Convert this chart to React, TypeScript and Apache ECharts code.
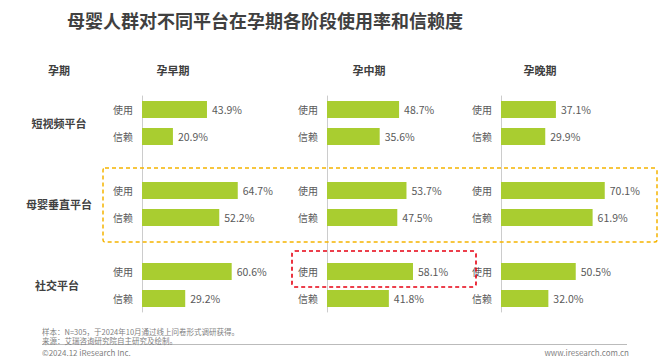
import React, { useEffect, useRef } from "react";
import * as echarts from "echarts";

const title = "母婴人群对不同平台在孕期各阶段使用率和信赖度";
const stages = ["孕早期", "孕中期", "孕晚期"];
const platforms = ["短视频平台", "母婴垂直平台", "社交平台"];
const metricLabels = ["使用", "信赖", "", "使用", "信赖", "", "使用", "信赖"];
// usage by stage: [短视频, 母婴垂直, 社交]
const usageEarly = [43.9, 64.7, 60.6];
const usageMid = [48.7, 53.7, 58.1];
const usageLate = [37.1, 70.1, 50.5];
const trustEarly = [20.9, 52.2, 29.2];
const trustMid = [35.6, 47.5, 41.8];
const trustLate = [29.9, 61.9, 32.0];
const footNote1 = "样本：N=305，于2024年10月通过线上问卷形式调研获得。";
const footNote2 = "来源：艾瑞咨询研究院自主研究及绘制。";
const copyright = "©2024.12 iResearch Inc.";
const website = "www.iresearch.com.cn";

const FONT = "'Noto Sans CJK SC', 'Noto Sans', sans-serif";
const BAR = "#A9CD30";

function slots(u: number[], t: number[]) {
  return [u[0], t[0], "-", u[1], t[1], "-", u[2], t[2]];
}

export default function App() {
  const ref = useRef<HTMLDivElement>(null);
  useEffect(() => {
    if (!ref.current) return;
    const chart = echarts.init(ref.current, undefined, { renderer: "svg" });
    const lefts = [142, 327, 501];
    const stageData = [
      slots(usageEarly, trustEarly),
      slots(usageMid, trustMid),
      slots(usageLate, trustLate),
    ];
    const headerX = [173, 369, 540];
    const rowY = [123, 204, 285];
    const rowX = [59, 59, 57];
    const graphic: any[] = [
      {
        type: "text", x: 265, y: 20,
        style: { text: title, font: `bold 18px ${FONT}`, fill: "#404040", align: "center", verticalAlign: "middle" },
      },
      {
        type: "text", x: 59, y: 70,
        style: { text: "孕期", font: `bold 11px ${FONT}`, fill: "#404040", align: "center", verticalAlign: "middle" },
      },
      {
        type: "rect", shape: { x: 103, y: 168, width: 554, height: 74, r: 2 },
        style: { fill: "none", stroke: "#F5B400", lineWidth: 1.5, lineDash: [4, 3] }, z: 10,
      },
      {
        type: "rect", shape: { x: 292, y: 251, width: 184, height: 36, r: 3 },
        style: { fill: "none", stroke: "#E60012", lineWidth: 1.6, lineDash: [4, 3] }, z: 10,
      },
      {
        type: "line", shape: { x1: 42, y1: 344.5, x2: 627, y2: 344.5 },
        style: { stroke: "#BBBBBB", lineWidth: 1 },
      },
      {
        type: "text", x: 42, y: 331,
        style: { text: footNote1, font: `7.5px ${FONT}`, fill: "#7F7F7F", verticalAlign: "middle" },
      },
      {
        type: "text", x: 42, y: 340.5,
        style: { text: footNote2, font: `7.5px ${FONT}`, fill: "#7F7F7F", verticalAlign: "middle" },
      },
      {
        type: "text", x: 42, y: 352,
        style: { text: copyright, font: `8px ${FONT}`, fill: "#7F7F7F", verticalAlign: "middle" },
      },
      {
        type: "text", x: 629, y: 352,
        style: { text: website, font: `8px ${FONT}`, fill: "#7F7F7F", align: "right", verticalAlign: "middle" },
      },
    ];
    stages.forEach((s, i) => {
      graphic.push({
        type: "text", x: headerX[i], y: 70,
        style: { text: s, font: `bold 11px ${FONT}`, fill: "#404040", align: "center", verticalAlign: "middle" },
      });
    });
    platforms.forEach((p, i) => {
      graphic.push({
        type: "text", x: rowX[i], y: rowY[i],
        style: { text: p, font: `bold 11px ${FONT}`, fill: "#404040", align: "center", verticalAlign: "middle" },
      });
    });

    chart.setOption({
      animation: false,
      backgroundColor: "#FFFFFF",
      textStyle: { fontFamily: FONT },
      grid: lefts.map((l) => ({ left: l, top: 96, width: 148, height: 216, containLabel: false })),
      xAxis: lefts.map((_, i) => ({
        type: "value", gridIndex: i, min: 0, max: 100, show: false,
        splitLine: { show: false },
      })),
      yAxis: lefts.map((_, i) => ({
        type: "category", gridIndex: i, inverse: true, data: metricLabels,
        axisLine: { show: true, lineStyle: { color: "#CCCCCC", width: 1 } },
        axisTick: { show: false },
        axisLabel: { color: "#595959", fontSize: 10, margin: 9, fontFamily: FONT },
      })),
      series: stageData.map((d, i) => ({
        type: "bar", xAxisIndex: i, yAxisIndex: i, data: d, barWidth: 17,
        itemStyle: { color: BAR },
        label: {
          show: true, position: "right", distance: 5, color: "#595959", fontSize: 10.5, fontFamily: FONT,
          formatter: (p: any) => (typeof p.value === "number" ? p.value.toFixed(1) + "%" : ""),
        },
      })),
      graphic,
    });
    return () => chart.dispose();
  }, []);
  return <div ref={ref} style={{ position: "fixed", left: 0, top: 0, width: 660, height: 360 }} />;
}
